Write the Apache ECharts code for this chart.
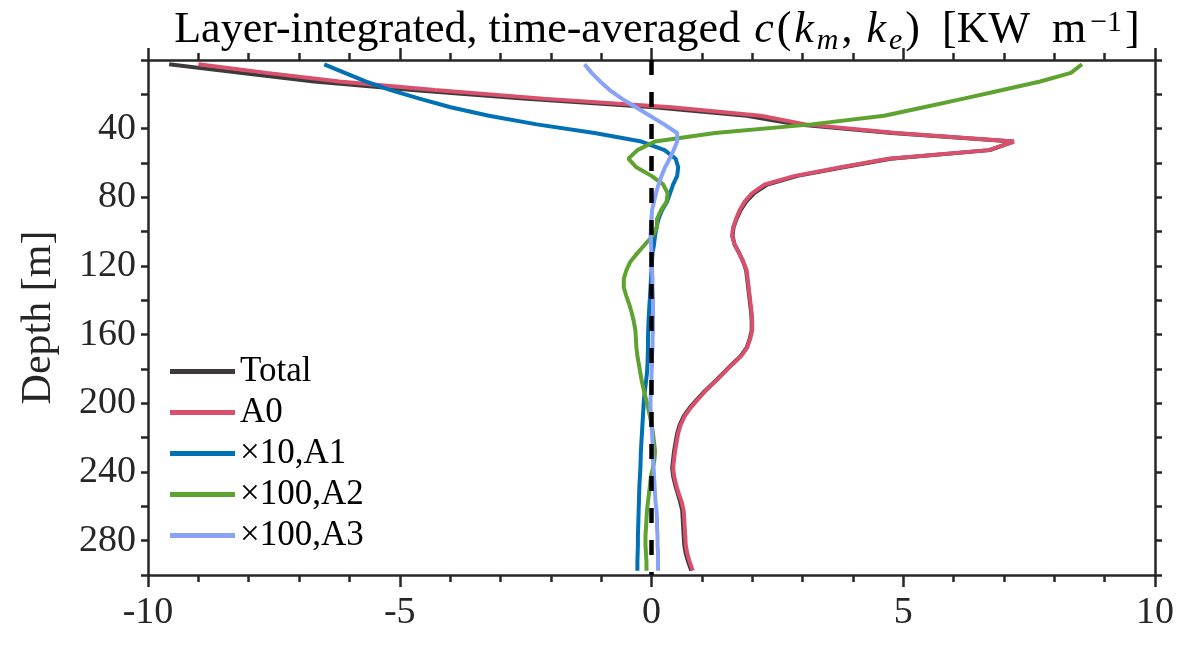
<!DOCTYPE html>
<html><head><meta charset="utf-8">
<script src="https://cdn.jsdelivr.net/npm/echarts/dist/echarts.min.js"></script>
<style>html,body{margin:0;padding:0;background:#fff}#c{width:1183px;height:646px}</style>
</head><body><div id="c"></div>
<script>
const depth = [2.5,7.5,12.5,17.5,22.5,27.5,32.5,37.5,42.5,47.5,52.5,57.5,62.5,67.5,72.5,77.5,82.5,87.5,92.5,97.5,
 102.5,107.5,112.5,117.5,122.5,127.5,132.5,137.5,142.5,147.5,152.5,157.5,162.5,167.5,172.5,177.5,182.5,187.5,192.5,197.5,
 202.5,207.5,212.5,217.5,222.5,227.5,232.5,237.5,242.5,247.5,252.5,257.5,262.5,267.5,272.5,277.5,282.5,287.5,292.5,297.5];
const total = [-9.58,-8.17,-6.70,-4.75,-2.55,0.05,1.89,2.87,4.77,7.19,6.72,4.75,3.81,2.90,2.30,2.04,1.88,1.77,1.69,1.63,
 1.61,1.65,1.74,1.82,1.88,1.90,1.92,1.94,1.96,1.98,1.99,1.99,1.95,1.89,1.77,1.59,1.42,1.25,1.07,0.91,
 0.76,0.64,0.56,0.51,0.48,0.45,0.43,0.41,0.43,0.47,0.52,0.57,0.61,0.62,0.63,0.64,0.65,0.68,0.73,0.79];
const a0 = [-9.0,-7.64,-6.2,-4.3,-2.15,0.4,2.17,3.06,4.86,7.2,6.7,4.7,3.76,2.85,2.25,2.0,1.85,1.75,1.68,1.62,
 1.6,1.65,1.74,1.82,1.89,1.91,1.93,1.95,1.97,1.99,2.0,2.0,1.96,1.9,1.78,1.6,1.43,1.26,1.08,0.93,
 0.78,0.66,0.58,0.53,0.5,0.47,0.45,0.43,0.45,0.49,0.54,0.6,0.64,0.65,0.66,0.67,0.68,0.71,0.76,0.82];
const a1x10 = [-6.5,-6.09,-5.68,-5.18,-4.61,-3.99,-3.23,-2.28,-1.13,-0.2,0.26,0.48,0.53,0.51,0.43,0.37,0.31,0.21,0.14,0.1,
 0.07,0.05,0.02,0.01,0.0,-0.01,-0.02,-0.03,-0.04,-0.05,-0.06,-0.065,-0.07,-0.07,-0.075,-0.08,-0.09,-0.11,-0.13,-0.15,
 -0.16,-0.17,-0.18,-0.19,-0.2,-0.21,-0.215,-0.22,-0.23,-0.24,-0.245,-0.25,-0.255,-0.26,-0.265,-0.27,-0.27,-0.275,-0.28,-0.28];
const a2x100 = [8.55,8.33,7.72,6.97,6.2,5.41,4.62,3.18,1.26,0.07,-0.28,-0.46,-0.3,0.0,0.23,0.32,0.3,0.19,0.11,0.11,
 0.02,-0.13,-0.28,-0.42,-0.5,-0.55,-0.55,-0.5,-0.44,-0.39,-0.35,-0.32,-0.31,-0.3,-0.28,-0.25,-0.22,-0.19,-0.15,-0.11,
 -0.07,-0.03,0.0,0.03,0.05,0.07,0.06,0.03,-0.01,-0.03,-0.05,-0.07,-0.09,-0.1,-0.11,-0.12,-0.12,-0.11,-0.1,-0.1];
const a3x100 = [-1.33,-1.19,-1.02,-0.83,-0.59,-0.31,-0.03,0.25,0.51,0.51,0.44,0.36,0.27,0.2,0.14,0.09,0.05,0.01,0.0,-0.01,
 -0.02,-0.01,0.0,0.0,0.01,0.02,0.02,0.03,0.03,0.03,0.03,0.03,0.02,0.02,0.01,0.01,0.0,0.0,-0.01,-0.02,
 -0.02,-0.01,0.0,0.01,0.02,0.02,0.03,0.04,0.05,0.06,0.07,0.08,0.1,0.11,0.11,0.12,0.12,0.13,0.13,0.13];
const names = ['Total','A0','\u00d710,A1','\u00d7100,A2','\u00d7100,A3'];
const colors = ['#3e3a3b','#d8506b','#0071b5','#5ea22f','#87a2f6'];
const valueSets = [total, a0, a1x10, a2x100, a3x100];
const xTicks = [-10,-5,0,5,10];
const yLabelTicks = [40,80,120,160,200,240,280];

const font = 'Liberation Serif';
const axisCol = '#262626';
const lineSt = {color: axisCol, width: 2.5};

function xAx(pos, showLabel) {
  return {type:'value', gridIndex:0, position:pos, min:xTicks[0], max:xTicks[xTicks.length-1], interval:5,
    axisLine:{show:true, onZero:false, lineStyle:lineSt},
    axisTick:{show:true, inside:false, length:12, lineStyle:lineSt},
    minorTick:{show:true, splitNumber:5, length:7, lineStyle:lineSt},
    splitLine:{show:false}, minorSplitLine:{show:false},
    axisLabel:{show:showLabel, margin:19, fontFamily:font, fontSize:38, color:axisCol}
  };
}
function yAx(pos, showLabel) {
  return {type:'value', gridIndex:0, position:pos, inverse:true, min:0, max:300, interval:20,
    axisLine:{show:true, onZero:false, lineStyle:lineSt},
    axisTick:{show:true, inside:false, length:7, lineStyle:lineSt},
    splitLine:{show:false},
    axisLabel:{show:showLabel, margin:12, fontFamily:font, fontSize:38, color:axisCol,
      formatter: v => yLabelTicks.indexOf(v) >= 0 ? String(v) : ''},
    name: showLabel ? 'Depth [m]' : '',
    nameLocation:'middle', nameRotate:90, nameGap:88,
    nameTextStyle:{fontFamily:font, fontSize:42, color:axisCol}
  };
}

const series = valueSets.map((vals, i) => ({
  name: names[i], type:'line', xAxisIndex:0, yAxisIndex:0,
  data: vals.map((v, j) => [v, depth[j]]),
  showSymbol:false, symbol:'none', color: colors[i],
  lineStyle:{width:4, color: colors[i]}, z: 2 + i
}));
series.push({
  name:'zero', type:'line', xAxisIndex:0, yAxisIndex:0, data:[[0,0],[0,300]],
  symbol:'none', silent:true, z:10,
  lineStyle:{color:'#000', width:4.5, type:[15,17]}
});

const chart = echarts.init(document.getElementById('c'), null, {renderer:'canvas'});
chart.setOption({
  animation:false,
  backgroundColor:'#fff',
  grid:{left:148, right:28, top:60, bottom:71, containLabel:false},
  xAxis:[xAx('bottom', true), xAx('top', false)],
  yAxis:[yAx('left', true), yAx('right', false)],
  legend:{orient:'vertical', left:170, top:354, padding:0, itemGap:6, itemWidth:65, itemHeight:5,
    icon:'rect', data:names, textStyle:{fontFamily:font, fontSize:35, color:'#000', lineHeight:34}},
  graphic:[{
    type:'text', x:657, y:30, z:100,
    style:{
      text:'Layer-integrated, time-averaged {i|c}{n|(}{i|k}{sub|m}{n|, }{i|k}{sub|e}{n|)}  {n|[KW  m}{sup|\u22121}{n|]}',
      font:'44px "Liberation Serif"', fill:'#000', align:'center', verticalAlign:'middle',
      rich:{
        n:{fontFamily:font, fontSize:44, fill:'#000', lineHeight:44},
        i:{fontFamily:font, fontSize:44, fontStyle:'italic', fill:'#000', lineHeight:44, padding:[0,3,0,3]},
        sub:{fontFamily:font, fontSize:30, fontStyle:'italic', fill:'#000', lineHeight:30, verticalAlign:'top', padding:[18,3,0,0]},
        sup:{fontFamily:font, fontSize:30, fill:'#000', lineHeight:30, verticalAlign:'top', padding:[0,3,0,4]}
      }
    }
  }],
  series: series
});
</script>
</body></html>
